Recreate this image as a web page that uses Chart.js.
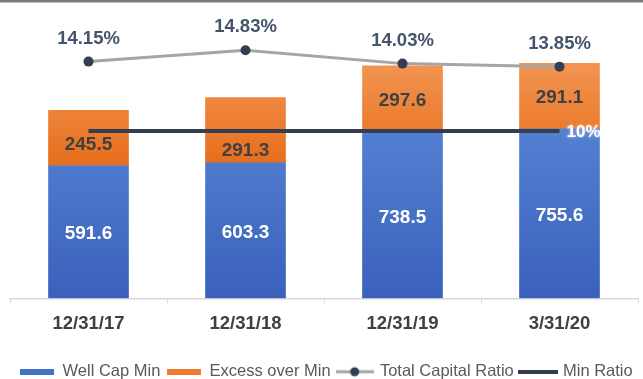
<!DOCTYPE html>
<html><head><meta charset="utf-8">
<script src="https://cdn.jsdelivr.net/npm/chart.js@4/dist/chart.umd.min.js"></script>
<style>html,body{margin:0;padding:0;background:#fff;} #wrap{width:643px;height:379px;position:relative;}</style>
</head><body><div id="wrap"><canvas id="c" width="643" height="379"></canvas></div>
<script>
const categories = ['12/31/17', '12/31/18', '12/31/19', '3/31/20'];
const wellCapMin = [591.6, 603.3, 738.5, 755.6];
const excessOverMin = [245.5, 291.3, 297.6, 291.1];
const totalCapitalRatio = [14.15, 14.83, 14.03, 13.85];
const minRatio = [10, 10, 10, 10];
const seriesNames = ['Well Cap Min', 'Excess over Min', 'Total Capital Ratio', 'Min Ratio'];

const NAVY = '#333F50';
const GRAY_LINE = '#A5A5A5';
const FONT = '"Liberation Sans", Arial, sans-serif';

function grad(chart, v0, c0, v1, c1, fallback) {
  const area = chart.chartArea; const y = chart.scales.y;
  if (!area || !y) return fallback;
  const g = chart.ctx.createLinearGradient(0, y.getPixelForValue(v0), 0, y.getPixelForValue(v1));
  g.addColorStop(0, c0); g.addColorStop(1, c1);
  return g;
}

function makeIcon(w, h, draw) {
  const cv = document.createElement('canvas'); cv.width = w; cv.height = h;
  draw(cv.getContext('2d'), w, h); return cv;
}
const icons = [
  makeIcon(34, 6, (g, w, h) => { g.fillStyle = '#4472C4'; g.fillRect(0, 0, w, h); }),
  makeIcon(34, 6, (g, w, h) => { g.fillStyle = '#ED7D31'; g.fillRect(0, 0, w, h); }),
  makeIcon(38, 12, (g, w, h) => { g.strokeStyle = GRAY_LINE; g.lineWidth = 3; g.beginPath(); g.moveTo(0, 6); g.lineTo(w, 6); g.stroke(); g.fillStyle = NAVY; g.beginPath(); g.arc(w / 2, 6, 4.5, 0, Math.PI * 2); g.fill(); }),
  makeIcon(40, 4, (g, w, h) => { g.fillStyle = NAVY; g.fillRect(0, 0, w, h); })
];

const valueLabels = {
  id: 'valueLabels',
  afterDatasetsDraw(chart) {
    const c = chart.ctx;
    c.save();
    chart.data.datasets.forEach((ds, di) => {
      const lab = ds.valueLabel; if (!lab) return;
      const meta = chart.getDatasetMeta(di);
      meta.data.forEach((el, i) => {
        const v = ds.data[i];
        c.font = lab.font; c.fillStyle = lab.color; c.textAlign = 'center'; c.textBaseline = 'middle';
        let x = el.x, y;
        if (lab.mode === 'center') {
          y = (el.y + el.base) / 2 + (lab.shift ? lab.shift[i] : 0);
        } else if (lab.mode === 'above') {
          y = el.y - lab.offset;
        } else {
          if (i !== meta.data.length - 1) return;
          x = el.x + lab.dx; c.textAlign = 'left'; y = el.y + 1;
          c.shadowColor = 'rgba(255,255,255,0.7)'; c.shadowBlur = 3;
        }
        c.fillText(lab.format(v), x, y);
        c.shadowBlur = 0;
      });
    });
    c.restore();
  }
};

const frame = {
  id: 'frame',
  beforeDraw(chart) {
    const c = chart.ctx; c.save();
    c.fillStyle = '#fff'; c.fillRect(0, 0, chart.width, chart.height);
    c.fillStyle = '#7a7a7a'; c.fillRect(0, 0, chart.width, 2.5);
    c.restore();
  }
};

const legendShift = {
  id: 'legendShift',
  afterLayout(chart, args, opts) {
    const l = chart.legend; if (!l) return;
    l.top += opts.dy; l.bottom += opts.dy;
  }
};

new Chart(document.getElementById('c'), {
  type: 'bar',
  data: {
    labels: categories,
    datasets: [
      {
        type: 'line', label: seriesNames[2], data: totalCapitalRatio, yAxisID: 'y2', order: 0,
        borderColor: GRAY_LINE, borderWidth: 3, pointRadius: 5, pointHoverRadius: 5,
        pointBackgroundColor: NAVY, pointBorderColor: NAVY, pointBorderWidth: 0, tension: 0,
        valueLabel: { mode: 'above', offset: 23, font: 'bold 18.5px ' + FONT, color: '#44546A', format: v => v.toFixed(2) + '%' }
      },
      {
        type: 'line', label: seriesNames[3], data: minRatio, yAxisID: 'y2', order: 1,
        borderColor: NAVY, borderWidth: 4, pointRadius: 0, pointHoverRadius: 0,
        valueLabel: { mode: 'end', dx: 7, font: 'bold 17px ' + FONT, color: '#ffffff', format: v => v + '%' }
      },
      {
        label: seriesNames[0], data: wellCapMin, stack: 's', order: 2,
        backgroundColor: ctx => grad(ctx.chart, 0, '#3A60BB', 760, '#5381D2', '#4472C4'),
        valueLabel: { mode: 'center', shift: [2, 2, 2, 2], font: 'bold 19px ' + FONT, color: '#ffffff', format: v => v.toFixed(1) }
      },
      {
        label: seriesNames[1], data: excessOverMin, stack: 's', order: 3,
        backgroundColor: ctx => grad(ctx.chart, 600, '#E76E1C', 1050, '#F29552', '#ED7D31'),
        valueLabel: { mode: 'center', shift: [6.5, 20.5, 2, 1.5], font: 'bold 19px ' + FONT, color: '#404040', format: v => v.toFixed(1) }
      }
    ]
  },
  options: {
    responsive: false, animation: false, devicePixelRatio: 1,
    layout: { padding: { top: 29, left: 10, right: 0, bottom: 0 } },
    datasets: { bar: { barThickness: 80 } },
    scales: {
      x: {
        stacked: true, offset: true,
        grid: { display: true, drawOnChartArea: false, drawTicks: true, tickLength: 5, color: '#D9D9D9', offset: true },
        border: { display: true, color: '#D9D9D9', width: 1.5 },
        ticks: { color: '#404040', font: { family: FONT, size: 18.5, weight: 'bold' }, padding: 10 }
      },
      y: { stacked: true, display: false, min: 0, max: 1200 },
      y2: { display: false, min: 0, max: 16.1, position: 'right' }
    },
    plugins: {
      tooltip: { enabled: false },
      legendShift: { dy: 11 },
      legend: {
        position: 'bottom',
        labels: {
          color: '#595959', font: { family: FONT, size: 16.5 }, padding: 7,
          usePointStyle: true, pointStyleWidth: 34, boxHeight: 16,
          generateLabels: (chart) => [0, 1, 2, 3].map(k => ({
            text: seriesNames[k], pointStyle: icons[k], fillStyle: 'transparent', strokeStyle: 'transparent',
            lineWidth: 0, hidden: false, fontColor: '#595959',
            datasetIndex: [2, 3, 0, 1][k]
          }))
        }
      }
    }
  },
  plugins: [frame, valueLabels, legendShift]
});
</script></body></html>
